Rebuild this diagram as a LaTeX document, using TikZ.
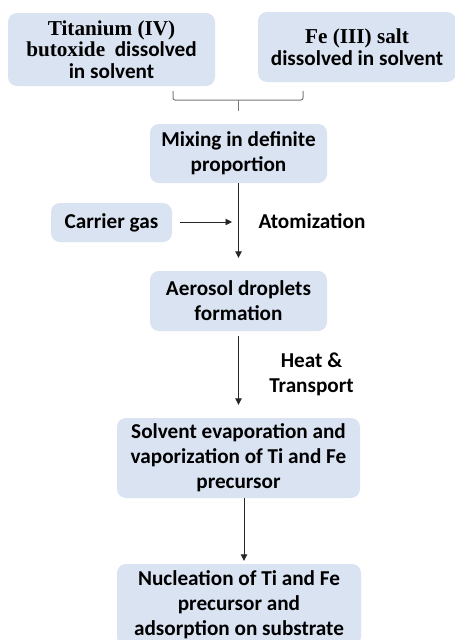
\documentclass[tikz,border=0pt]{standalone}
\usepackage{fontspec}
\setmainfont{Carlito}
\newfontfamily\timesb{Liberation Serif}
\usetikzlibrary{arrows.meta}
\definecolor{boxfill}{RGB}{218,227,242}
\definecolor{linegray}{RGB}{120,120,120}
\begin{document}
\begin{tikzpicture}[x=1pt,y=-1pt,
  box/.style={fill=boxfill,rounded corners=9pt,inner sep=0pt,align=center,
    font=\bfseries\fontsize{21.2}{25}\selectfont},
  topbox/.style={box,font=\bfseries\fontsize{21.2}{21.5}\selectfont},
  lbl/.style={inner sep=0pt,align=center,font=\bfseries\fontsize{21.2}{25}\selectfont},
  arr/.style={draw=black!85,line width=0.9pt,-{Triangle[length=6.5pt,width=6.5pt]}},
  bracket/.style={draw=linegray,line width=1pt,rounded corners=2pt}]
\useasboundingbox (0,0) rectangle (455,640);
\node[topbox,minimum width=207pt,minimum height=73pt] (ti) at (111.5,49.5)
  {{\timesb Titanium (IV)}\\{\timesb butoxide}\ \ dissolved\\in solvent};
\node[topbox,minimum width=198pt,minimum height=70pt] (fe) at (357,47)
  {{\timesb Fe (III) salt}\\dissolved in solvent};
\coordinate (bl) at (173,91);
\coordinate (br) at (303,91);
\coordinate (bm) at (238,100);
\coordinate (bt) at (238,111);
\draw[bracket] (bl) -- (173,100) -- (303,100) -- (br);
\draw[bracket] (bm) -- (bt);
\node[box,minimum width=177pt,minimum height=59pt] (mix) at (238.5,153.5)
  {Mixing in definite\\proportion};
\node[box,minimum width=121pt,minimum height=39pt] (gas) at (111.5,222.5)
  {Carrier gas};
\node[lbl] (atom) at (312,221) {Atomization};
\node[box,minimum width=177pt,minimum height=60pt] (aer) at (238.5,301)
  {Aerosol droplets\\formation};
\node[lbl] (heat) at (311.5,374.5) {Heat \&\\Transport};
\node[box,minimum width=243pt,minimum height=80pt] (sol) at (238.5,458)
  {Solvent evaporation and\\vaporization of Ti and Fe\\precursor};
\node[box,minimum width=244pt,minimum height=82pt] (nuc) at (239,605)
  {Nucleation of Ti and Fe\\precursor and\\adsorption on substrate};
\coordinate (join) at (238,222);
\draw[arr,shorten >=13pt] (mix.south) -- (aer.north);
\draw[arr,shorten <=8pt,shorten >=6pt] (gas.east |- join) -- (join);
\draw[arr,shorten <=5pt,shorten >=13pt] (aer.south) -- (sol.north);
\draw[arr,shorten >=3pt] ([xshift=5.5pt]sol.south) -- ([xshift=5pt]nuc.north);
\end{tikzpicture}
\end{document}
